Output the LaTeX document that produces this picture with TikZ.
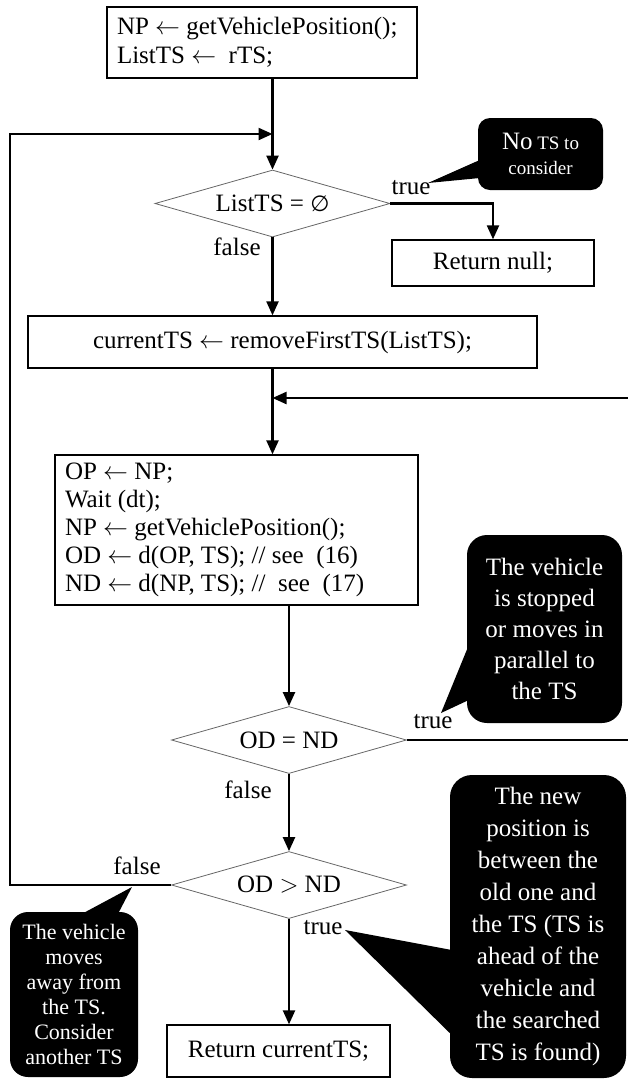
\documentclass[tikz,border=0pt]{standalone}
\usepackage{fontspec}
\setmainfont{Liberation Serif}
\newfontfamily\symsans{DejaVu Sans}
\usetikzlibrary{arrows.meta,shapes.geometric,calc}
\begin{document}
\begin{tikzpicture}[x=1pt,y=-1pt,
  box/.style={draw, line width=1.3pt, inner sep=0pt, font=\fontsize{25}{27}\selectfont},
  dec/.style={diamond, draw=black!60, line width=0.8pt, inner sep=0pt, aspect=3.5,
              minimum width=235pt, minimum height=67pt, font=\fontsize{25}{27}\selectfont},
  flow/.style={line width=2.2pt, -{Triangle[length=14pt,width=12pt]}},
  lbl/.style={font=\fontsize{25}{27}\selectfont, inner sep=0pt},
  callout/.style={fill=black, text=white, align=center, inner sep=0pt},
]
\useasboundingbox (0,0) rectangle (628,1085);

% process boxes
\node[box, minimum width=310pt, minimum height=71pt, align=flush left, text width=290pt,
      font=\fontsize{25}{29}\selectfont] (init) at (262,42.5)
  {NP $\leftarrow$ getVehiclePosition();\\ListTS $\leftarrow$\ \ rTS;};
\node[dec] (d1) at (272.5,203.5) {ListTS = {\symsans\fontsize{22}{27}\selectfont ∅}};
\node[box, minimum width=202pt, minimum height=46pt] (rnull) at (493,263) {Return null;};
\node[box, minimum width=509pt, minimum height=52pt] (cur) at (282.5,342)
  {currentTS $\leftarrow$ removeFirstTS(ListTS);};
\node[box, minimum width=363pt, minimum height=150pt, align=flush left, text width=343pt,
      font=\fontsize{25}{28}\selectfont] (upd) at (236.5,530)
  {OP $\leftarrow$ NP;\\Wait (dt);\\NP $\leftarrow$ getVehiclePosition();\\OD $\leftarrow$ d(OP, TS); // see\ \ (16)\\ND $\leftarrow$ d(NP, TS); //\ \ see\ \ (17)};
\node[dec] (d2) at (289,740) {OD = ND};
\node[dec] (d3) at (289,885) {OD $>$ ND};
\node[box, minimum width=223pt, minimum height=52pt] (ret) at (278.5,1051) {Return currentTS;};

% junctions
\coordinate (jA) at (272.5,134);
\coordinate (cornerL) at (10,134);
\coordinate (jB) at (272.5,398);
\coordinate (cornerR) at (630,398);

% connectors
\draw[flow] (init.south -| d1.north) -- (d1.north);
\draw[flow] (d1.south) -- (d1.south |- cur.north);
\draw[flow] (d1.east) -| (rnull.north);
\draw[flow] (cur.south -| jB) -- (jB |- upd.north);
\draw[flow] (d2.east) -| (cornerR) -- (jB);
\draw[flow] (upd.south -| d2.north) -- (d2.north);
\draw[flow] (d2.south) -- (d3.north);
\draw[flow] (d3.south) -- (d3.south |- ret.north);
\draw[flow] (d3.west) -| (cornerL) -- (jA);

% branch labels
\node[lbl] (t1) at (411,188) {true};
\node[lbl] (f1) at (237,247) {false};
\node[lbl] (t2) at (433,722) {true};
\node[lbl] (f2) at (248,790) {false};
\node[lbl] (f3) at (137,866) {false};
\node[lbl] (t3) at (323,928) {true};

% callouts
\coordinate (tip1) at (428,183);
\coordinate (tip2) at (441,713);
\coordinate (tip3) at (345,930);
\coordinate (tip4) at (132,887);

\node[callout, minimum width=125pt, minimum height=72pt, rounded corners=12pt,
      font=\fontsize{19}{25}\selectfont] (c1) at (540.5,154)
  {{\fontsize{25}{25}\selectfont No} TS to\\consider};
\fill ($(c1.west)+(2,6)$) -- (tip1) -- ($(c1.west)+(2,24)$) -- cycle;

\node[callout, minimum width=155pt, minimum height=188pt, rounded corners=20pt,
      font=\fontsize{25}{31}\selectfont] (c2) at (544.5,629)
  {The vehicle\\is stopped\\or moves in\\parallel to\\the TS};
\fill ($(c2.west)+(2,16)$) -- (tip2) -- ($(c2.west)+(2,71)$) -- cycle;

\node[callout, minimum width=176pt, minimum height=303pt, rounded corners=22pt,
      font=\fontsize{25}{32}\selectfont] (c3) at (538,926.5)
  {The new\\position is\\between the\\old one and\\the TS (TS is\\ahead of the\\vehicle and\\the searched\\TS is found)};
\fill ($(c3.west)+(2,23.5)$) -- (tip3) -- ($(c3.west)+(2,108.5)$) -- cycle;

\node[callout, minimum width=128pt, minimum height=165pt, rounded corners=18pt,
      font=\fontsize{22}{25}\selectfont] (c4) at (74,994.5)
  {The vehicle\\moves\\away from\\the TS.\\Consider\\another TS};
\fill ($(c4.north)+(8,2)$) -- (tip4) -- ($(c4.north)+(44,2)$) -- cycle;
\end{tikzpicture}
\end{document}
